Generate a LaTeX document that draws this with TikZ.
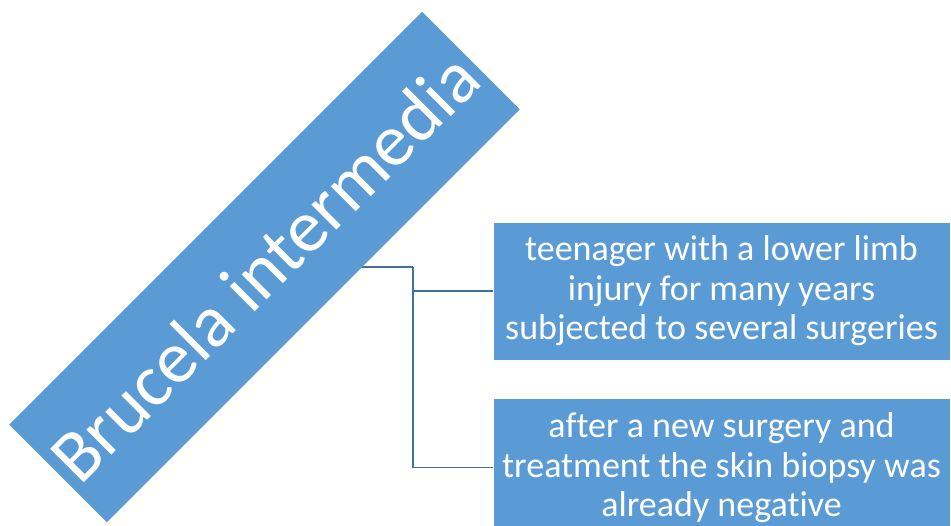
\documentclass[tikz,border=0pt]{standalone}
\usepackage{fontspec}
\setmainfont{Carlito}[Ligatures=NoCommon]
\usepackage{tikz}
\definecolor{boxBlue}{RGB}{91, 155, 213}
\definecolor{lineBlue}{RGB}{65, 113, 156}
\usetikzlibrary{positioning}
\usetikzlibrary{backgrounds}

\tikzset{
    infobox/.style={fill=boxBlue, draw=white, line width=0.6pt, text=white,
        minimum width=457pt, minimum height=138pt, align=center,
        font=\fontsize{36}{39.5}\selectfont, inner sep=0pt},
    link/.style={lineBlue, line width=1.6pt}
}

\begin{document}
\begin{tikzpicture}[x=1pt, y=-1pt]
        \useasboundingbox (0, 0) rectangle (951, 526);

        \node[fill=boxBlue, text=white, rotate=45, minimum width=584pt, minimum height=138pt,
              inner sep=0pt, font=\fontsize{74}{80}\selectfont] (genus) at (264.5, 267) {Brucela intermedia};

        \node[infobox] (patient) at (721.5, 291) {teenager with a lower limb\\injury for many years\\subjected to several surgeries};
        \node[infobox, below=38pt of patient] (biopsy) {after a new surgery and\\treatment the skin biopsy was\\already negative};

        \begin{scope}[on background layer]
            \draw[link] (genus.center) -- ++(148.5, 0) coordinate (fork);
            \draw[link] (fork) |- (patient.west);
            \draw[link] (fork) |- (biopsy.west);
        \end{scope}
    \end{tikzpicture}
\end{document}
